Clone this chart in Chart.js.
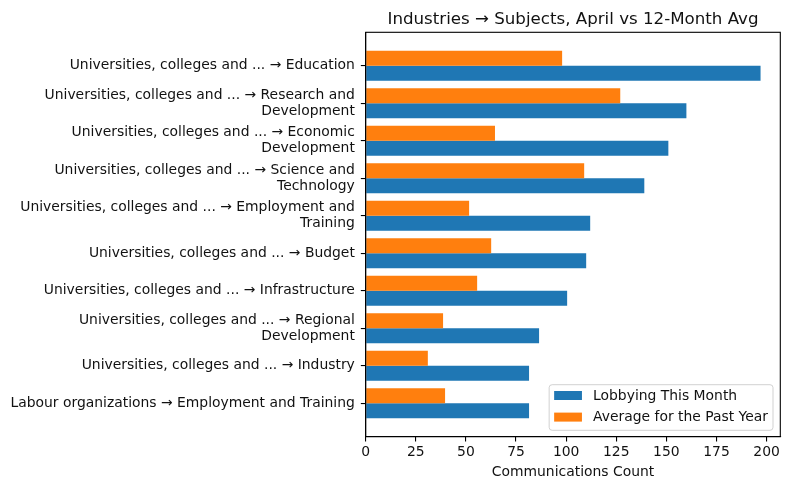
<!DOCTYPE html>
<html>
<head>
<meta charset="utf-8">
<script src="https://cdn.jsdelivr.net/npm/chart.js@4"></script>
<style>
  html, body { margin: 0; padding: 0; background: #fff; }
  canvas { display: block; }
</style>
</head>
<body>
<canvas id="c" width="790" height="490"></canvas>
<script>
const categories = [
  ["Universities, colleges and ... → Education"],
  ["Universities, colleges and ... → Research and", "Development"],
  ["Universities, colleges and ... → Economic", "Development"],
  ["Universities, colleges and ... → Science and", "Technology"],
  ["Universities, colleges and ... → Employment and", "Training"],
  ["Universities, colleges and ... → Budget"],
  ["Universities, colleges and ... → Infrastructure"],
  ["Universities, colleges and ... → Regional", "Development"],
  ["Universities, colleges and ... → Industry"],
  ["Labour organizations → Employment and Training"]
];
const lobbyingThisMonth = [197, 160, 151, 139, 112, 110, 100.5, 86.5, 81.5, 81.5];
const averagePastYear = [98, 127, 64.5, 109, 51.6, 62.6, 55.6, 38.6, 31, 39.6];
const xTicks = [0, 25, 50, 75, 100, 125, 150, 175, 200];
const titleText = "Industries → Subjects, April vs 12-Month Avg";
const xTitle = "Communications Count";
const seriesNames = ["Lobbying This Month", "Average for the Past Year"];

const BLUE = "#1f77b4", ORANGE = "#ff7f0e";
const FONT = "'DejaVu Sans', sans-serif";
const FS = 13.9;
const TXT = '#111';

const frameAndLegend = {
  id: 'frameAndLegend',
  afterDraw(chart) {
    const ctx = chart.ctx;
    const a = chart.chartArea;
    ctx.save();
    ctx.strokeStyle = '#000';
    ctx.lineWidth = 1.1;
    ctx.strokeRect(a.left, a.top, a.right - a.left, a.bottom - a.top);
    ctx.fillStyle = TXT;
    ctx.font = `16.67px ${FONT}`;
    ctx.textAlign = 'center';
    ctx.textBaseline = 'alphabetic';
    ctx.fillText(titleText, (a.left + a.right) / 2, a.top - 8.3);
    ctx.font = `${FS}px ${FONT}`;
    const tw = Math.max(...seriesNames.map(s => ctx.measureText(s).width));
    const pad = 5.0, hl = 27.8, htp = 11.1;
    const w = pad + hl + htp + tw + pad;
    const h = 45.6;
    const right = a.right - 7.3, bottom = a.bottom - 6.4;
    const left = right - w, top = bottom - h;
    ctx.beginPath();
    ctx.roundRect(left, top, w, h, 3);
    ctx.fillStyle = 'rgba(255,255,255,0.8)';
    ctx.fill();
    ctx.strokeStyle = 'rgba(204,204,204,0.9)';
    ctx.lineWidth = 1;
    ctx.stroke();
    const colors = [BLUE, ORANGE];
    const rows = [top + 10.8, top + 32.4];
    ctx.textAlign = 'left';
    ctx.textBaseline = 'middle';
    for (let i = 0; i < 2; i++) {
      ctx.fillStyle = colors[i];
      ctx.fillRect(left + pad, rows[i] - 4.5, hl, 9);
      ctx.fillStyle = TXT;
      ctx.fillText(seriesNames[i], left + pad + hl + htp, rows[i] + 0.5);
    }
    ctx.restore();
  }
};

new Chart(document.getElementById('c'), {
  type: 'bar',
  data: {
    datasets: [
      {
        label: seriesNames[1],
        data: averagePastYear.map((v, i) => ({ x: v, y: i })),
        backgroundColor: ORANGE,
        borderWidth: 0,
        categoryPercentage: 0.8,
        barPercentage: 1.0
      },
      {
        label: seriesNames[0],
        data: lobbyingThisMonth.map((v, i) => ({ x: v, y: i })),
        backgroundColor: BLUE,
        borderWidth: 0,
        categoryPercentage: 0.8,
        barPercentage: 1.0
      }
    ]
  },
  options: {
    indexAxis: 'y',
    responsive: false,
    animation: false,
    devicePixelRatio: 1,
    layout: { padding: { top: 32.3, right: 9.7, left: 0, bottom: 0 } },
    plugins: {
      legend: { display: false },
      title: { display: false },
      tooltip: { enabled: false }
    },
    scales: {
      x: {
        type: 'linear',
        position: 'bottom',
        min: 0,
        max: 206.85,
        offset: false,
        afterBuildTicks: (s) => { s.ticks = xTicks.map(v => ({ value: v })); },
        afterFit: (s) => { s.height = 53.3; },
        grid: { offset: false, drawOnChartArea: false, drawTicks: true, tickLength: 4.86, color: '#000', lineWidth: 1.1 },
        border: { display: true, color: '#000', width: 1.1 },
        ticks: { color: TXT, font: { family: FONT, size: FS }, padding: 2.4, maxRotation: 0, autoSkip: false },
        title: { display: true, text: xTitle, color: TXT, font: { family: FONT, size: FS }, padding: { top: 0, bottom: 9.7 } }
      },
      y: {
        type: 'linear',
        position: 'left',
        reverse: true,
        min: -0.89,
        max: 9.89,
        offset: false,
        afterBuildTicks: (s) => { s.ticks = categories.map((_, i) => ({ value: i })); },
        afterFit: (s) => { s.width = 365.7; },
        grid: { offset: false, drawOnChartArea: false, drawTicks: true, tickLength: 4.86, color: '#000', lineWidth: 1.1 },
        border: { display: true, color: '#000', width: 1.1 },
        ticks: {
          color: TXT,
          font: { family: FONT, size: FS, lineHeight: 1.15 },
          padding: 6,
          autoSkip: false,
          callback: (v) => categories[v]
        }
      }
    }
  },
  plugins: [frameAndLegend]
});
</script>
</body>
</html>
